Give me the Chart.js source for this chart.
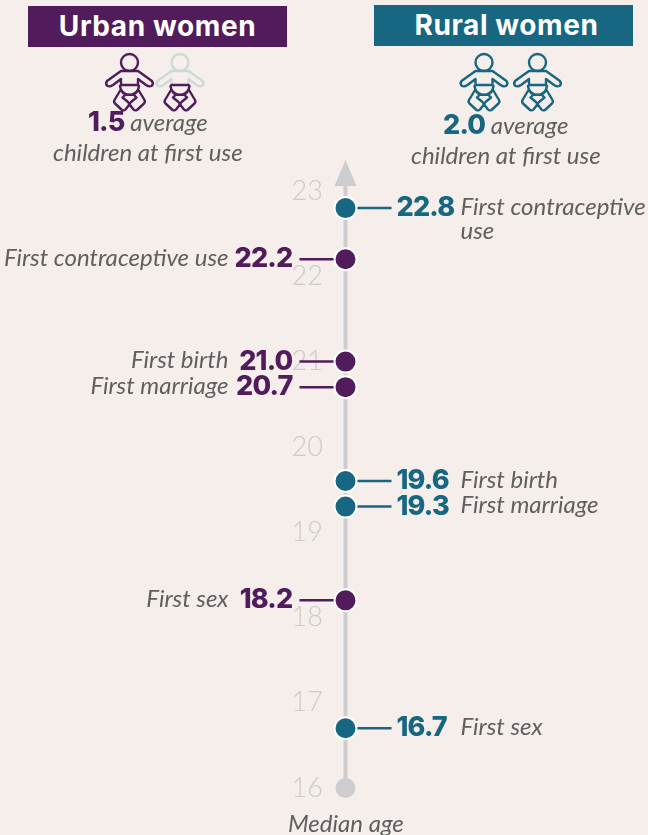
<!DOCTYPE html>
<html><head><meta charset="utf-8">
<script src="https://cdn.jsdelivr.net/npm/chart.js@4"></script>
<style>
html,body{margin:0;padding:0;background:#f5eeeb;width:648px;height:835px;overflow:hidden}
#wrap{position:relative;width:648px;height:835px}
canvas{position:absolute;left:0;top:0}
.hd{position:absolute;width:259px;height:41px;color:#fff;font:700 28px/41px Inter,sans-serif;text-align:center;letter-spacing:.6px}
.t{position:absolute;white-space:nowrap;font:italic 400 24px/28px Lato,sans-serif;color:#5f5f5f}
.t b{font:800 27px/28px Inter,sans-serif;letter-spacing:-.8px}
svg{position:absolute;left:0;top:0}
</style></head><body>
<div id="wrap">
<canvas id="c" width="648" height="835"></canvas>
<div class="hd" style="left:28px;top:6px;background:#521b5b">Urban women</div>
<div class="hd" style="left:374px;top:5px;background:#176682;text-indent:6px">Rural women</div>
<svg width="648" height="120" fill="none" stroke-width="2.4" stroke-linejoin="round" stroke-linecap="round">
<defs>
<g id="up"><circle cx="129.5" cy="62.5" r="8.5"/><path d="M121 71H138L152 81Q154 84 151.500 86Q149 87 146 85L138 79V85M121 71L107 81Q105 84 107.500 86Q110 87 113 85L121 79V85"/></g>
<g id="lo"><path d="M121 85H138M120 86Q121 94.700 129.500 94.700Q138 94.700 139 86M120.500 90L114.500 100Q113.500 102 115 103.500L122 110Q124 111 125.500 109.500L129 105Q129.500 103.500 128 102L122.500 97.500L126 94M138.500 90L144.500 100Q145.500 102 144 103.500L137 110Q135 111 133.500 109.500L130 105Q129.500 103.500 131 102L136.500 97.500L133 94"/></g>
</defs>
<use href="#up" stroke="#521b5b"/><use href="#lo" stroke="#521b5b"/>
<use href="#up" x="50.500" stroke="#cdd8d8"/><use href="#lo" x="50.500" stroke="#521b5b"/>
<use href="#up" x="354.500" stroke="#176682"/><use href="#lo" x="354.500" stroke="#176682"/>
<use href="#up" x="408" stroke="#176682"/><use href="#lo" x="408" stroke="#176682"/>
</svg>
<div class="t" style="left:88px;top:108px"><b id="uc" style="color:#521b5b"></b>&nbsp;average</div>
<div class="t" style="left:53px;top:138px">children at first use</div>
<div class="t" style="left:443px;top:111px"><b id="rc" style="color:#176682"></b>&nbsp;average</div>
<div class="t" style="left:411px;top:141px">children at first use</div>
<div class="t" style="left:288px;top:809px">Median age</div>
</div>
<script>
const axisTicks = [16,17,18,19,20,21,22,23];
const urbanAges = [22.2,21.0,20.7,18.2];
const urbanEvents = ['First contraceptive use','First birth','First marriage','First sex'];
const ruralAges = [22.8,19.6,19.3,16.7];
const ruralEvents = ['First contraceptive\nuse','First birth','First marriage','First sex'];
const urbanChildren = 1.5;
const ruralChildren = 2.0;
const PURPLE='#521b5b', TEAL='#176682', AXIS='#cdcdcf', GREY='#5f5f5f';
document.getElementById('uc').textContent = urbanChildren.toFixed(1);
document.getElementById('rc').textContent = ruralChildren.toFixed(1);

const sides = {
  0:{color:PURPLE,dir:-1,ages:urbanAges,events:urbanEvents,numGap:53,textGap:117},
  1:{color:TEAL,dir:1,ages:ruralAges,events:ruralEvents,numGap:51,textGap:115}
};
const overlay = {
  id:'overlay',
  beforeDatasetsDraw(ch){
    const c=ch.ctx, s=ch.scales.y, x0=ch.scales.x.getPixelForValue(0);
    c.save();
    c.strokeStyle=AXIS; c.lineWidth=4;
    c.beginPath(); c.moveTo(x0,s.getPixelForValue(16)); c.lineTo(x0,s.top-12); c.stroke();
    c.fillStyle=AXIS;
    c.beginPath(); c.moveTo(x0,s.top-31); c.lineTo(x0+11,s.top-5); c.lineTo(x0-11,s.top-5); c.closePath(); c.fill();
    for(const k of [0,1]){
      const d=sides[k];
      c.strokeStyle=d.color; c.lineWidth=2.5;
      d.ages.forEach(v=>{const y=s.getPixelForValue(v);
        c.beginPath(); c.moveTo(x0,y); c.lineTo(x0+d.dir*46,y); c.stroke();});
    }
    c.restore();
  },
  afterDatasetsDraw(ch){
    const c=ch.ctx, s=ch.scales.y, x0=ch.scales.x.getPixelForValue(0);
    c.save(); c.textBaseline='middle';
    for(const k of [0,1]){
      const d=sides[k];
      d.ages.forEach((v,i)=>{
        const y=s.getPixelForValue(v);
        c.textAlign=d.dir<0?'right':'left';
        c.fillStyle=d.color; c.font='800 27px Inter, sans-serif';
        c.letterSpacing='-0.8px';
        c.fillText(v.toFixed(1),x0+d.dir*d.numGap,y);
        c.letterSpacing='0px';
        c.fillStyle=GREY; c.font='italic 400 24px Lato, sans-serif';
        d.events[i].split('\n').forEach((ln,j)=>{
          c.fillText(ln,x0+d.dir*d.textGap,y-1+j*24);
        });
      });
    }
    c.restore();
  }
};
new Chart(document.getElementById('c'),{
  type:'scatter',
  data:{datasets:[
    {label:'Origin',data:[{x:0,y:16}],backgroundColor:AXIS,borderWidth:0,pointRadius:10,pointHoverRadius:10,clip:false},
    {label:'Urban women',data:urbanAges.map(y=>({x:0,y})),backgroundColor:PURPLE,borderColor:'#fff',borderWidth:2,pointRadius:11,pointHoverRadius:11,clip:false},
    {label:'Rural women',data:ruralAges.map(y=>({x:0,y})),backgroundColor:TEAL,borderColor:'#fff',borderWidth:2,pointRadius:11,pointHoverRadius:11,clip:false}
  ]},
  options:{
    responsive:false,animation:false,
    layout:{padding:{left:56,right:0,top:191,bottom:47}},
    plugins:{legend:{display:false},tooltip:{enabled:false},title:{display:false}},
    scales:{
      x:{type:'linear',min:-1,max:1,display:false},
      y:{type:'linear',min:16,max:23,position:{x:-0.078},
        grid:{display:false},border:{display:false},
        afterBuildTicks(a){a.ticks=axisTicks.map(v=>({value:v}));},
        ticks:{color:'#cbcbcb',font:{family:'Lato',size:27,weight:'300'},autoSkip:false,maxRotation:0}}
    }
  },
  plugins:[overlay]
});
</script>
</body></html>
